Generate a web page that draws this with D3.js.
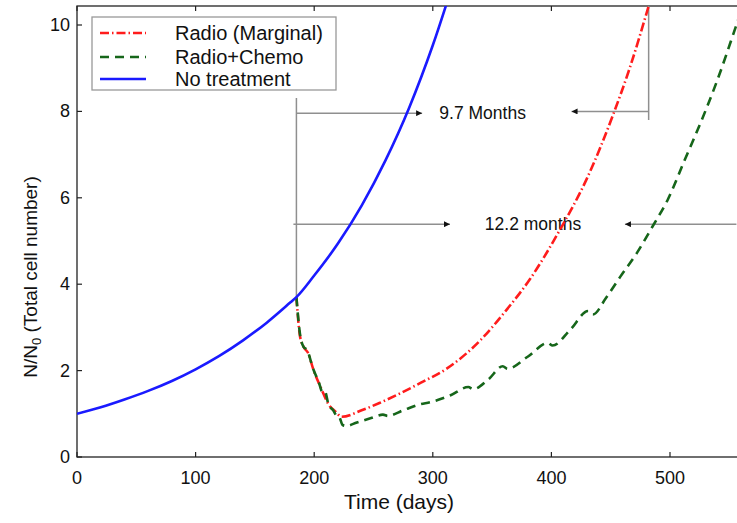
<!DOCTYPE html>
<html>
<head>
<meta charset="utf-8">
<script src="https://cdn.jsdelivr.net/npm/d3@7"></script>
<style>
  body { margin: 0; background: #fff; }
  text { font-family: "Liberation Sans", Arial, Helvetica, sans-serif; fill: #111; }
</style>
</head>
<body>
<div id="a"></div>
<script>
// values (days, N/N0)
var noTreatDays = [0, 20, 40, 60, 80, 100, 120, 140, 160, 180, 185, 200, 220, 240, 260, 280, 300, 320];
var noTreatVals = [1.00, 1.15, 1.33, 1.53, 1.76, 2.03, 2.34, 2.70, 3.11, 3.58, 3.70, 4.20, 4.94, 5.82, 6.86, 8.08, 9.53, 11.22];

var radioDays = [185, 188, 191, 195, 199, 206, 213, 218, 223, 240, 255, 270, 290, 312, 340, 362, 382, 407, 430, 452, 466, 482, 492];
var radioVals = [3.70, 2.80, 2.55, 2.40, 2.05, 1.58, 1.18, 1.05, 0.93, 1.08, 1.25, 1.44, 1.72, 2.05, 2.70, 3.40, 4.12, 5.25, 6.45, 7.92, 9.00, 10.44, 11.40];

var chemoDays = [185, 188, 191, 194, 199, 204, 207, 209, 212, 216, 219, 221, 224, 227, 236, 248, 258, 262, 275, 289, 298, 315, 330, 334, 347, 359, 363, 380, 397, 401, 416, 431, 435, 446, 458, 472, 486, 498, 512, 526, 540, 556, 566];
var chemoVals = [3.70, 2.85, 2.55, 2.48, 2.05, 1.72, 1.50, 1.52, 1.22, 1.08, 0.95, 0.93, 0.74, 0.72, 0.80, 0.90, 0.98, 0.95, 1.08, 1.22, 1.27, 1.43, 1.62, 1.57, 1.80, 2.10, 2.04, 2.32, 2.64, 2.58, 2.95, 3.38, 3.30, 3.68, 4.17, 4.72, 5.37, 5.95, 6.85, 7.75, 8.73, 10.00, 10.80];

var xTicks = [0, 100, 200, 300, 400, 500, 600];
var yTicks = [0, 2, 4, 6, 8, 10];
var legendLabels = ["Radio (Marginal)", "Radio+Chemo", "No treatment"];

// annotation values (days / N/N0)
var startDay = 185, radioEnd = 482, chemoEnd = 556;
var ann = [
  {label: "9.7 Months", y: 7.96, yR: 8.0, left: 291, text: 342, right: 417, end: radioEnd},
  {label: "12.2 months", y: 5.39, yR: 5.39, left: 314.5, text: 384.5, right: 462, end: chemoEnd}
];

var W = 737, H = 523;
var svg = d3.select("#a").append("svg")
  .attr("width", W).attr("height", H)
  .style("background-color", "#fff");

var x = d3.scaleLinear().domain([0, 500]).range([77, 670]);
var y = d3.scaleLinear().domain([0, 10]).range([457, 25]);
var pTop = 6, pBottom = y(0), pLeft = x(0), pRight = x(600);

var defs = svg.append("defs");
defs.append("clipPath").attr("id", "clip")
  .append("rect").attr("x", pLeft).attr("y", pTop).attr("width", pRight - pLeft).attr("height", pBottom - pTop);
defs.append("marker").attr("id", "arr")
  .attr("viewBox", "0 0 10 10").attr("refX", 10).attr("refY", 5)
  .attr("markerWidth", 11).attr("markerHeight", 6).attr("markerUnits", "userSpaceOnUse")
  .attr("orient", "auto")
  .append("path").attr("d", "M0,0L10,5L0,10Z").attr("fill", "#111");

// frame
svg.append("rect").attr("x", pLeft).attr("y", pTop).attr("width", pRight - pLeft).attr("height", pBottom - pTop)
  .attr("fill", "none").attr("stroke", "#222").attr("stroke-width", 1.3);

// ticks (inward)
var g = svg.append("g");
g.selectAll(".xb").data(xTicks).enter().append("line")
  .attr("x1", d => x(d)).attr("x2", d => x(d)).attr("y1", pBottom).attr("y2", pBottom - 5)
  .attr("stroke", "#222").attr("stroke-width", 1.2);
g.selectAll(".xt").data(xTicks).enter().append("line")
  .attr("x1", d => x(d)).attr("x2", d => x(d)).attr("y1", pTop).attr("y2", pTop + 5)
  .attr("stroke", "#222").attr("stroke-width", 1.2);
g.selectAll(".yl").data(yTicks).enter().append("line")
  .attr("x1", pLeft).attr("x2", pLeft + 5).attr("y1", d => y(d)).attr("y2", d => y(d))
  .attr("stroke", "#222").attr("stroke-width", 1.2);

g.selectAll(".xlab").data(xTicks.slice(0, 6)).enter().append("text")
  .attr("x", d => x(d)).attr("y", 484).attr("text-anchor", "middle")
  .attr("font-size", 18).text(d => d);
g.selectAll(".ylab").data(yTicks).enter().append("text")
  .attr("x", 70).attr("y", d => y(d) + 6).attr("text-anchor", "end")
  .attr("font-size", 18).text(d => d);

svg.append("text").attr("x", 399).attr("y", 509).attr("text-anchor", "middle")
  .attr("font-size", 21).text("Time (days)");
var yt = svg.append("text").attr("transform", "translate(37," + 277 + ") rotate(-90)")
  .attr("text-anchor", "middle").attr("font-size", 19);
yt.append("tspan").text("N/N");
yt.append("tspan").attr("font-size", 13).attr("dy", 4).text("0");
yt.append("tspan").attr("dy", -4).text(" (Total cell number)");

// annotation lines
var ga = svg.append("g").attr("stroke", "#8f8f8f").attr("stroke-width", 1.5);
ga.append("line").attr("x1", x(startDay)).attr("x2", x(startDay)).attr("y1", 98).attr("y2", y(3.7));
ga.append("line").attr("x1", x(radioEnd)).attr("x2", x(radioEnd)).attr("y1", pTop).attr("y2", 120);
ann.forEach(function(a) {
  ga.append("line").attr("x1", x(startDay) - (a.end === chemoEnd ? 3 : 0)).attr("x2", x(a.left))
    .attr("y1", y(a.y)).attr("y2", y(a.y)).attr("marker-end", "url(#arr)");
  ga.append("line").attr("x1", x(a.end)).attr("x2", x(a.right))
    .attr("y1", y(a.yR)).attr("y2", y(a.yR)).attr("marker-end", "url(#arr)");
  svg.append("text").attr("x", x(a.text)).attr("y", y(a.y) + 6).attr("text-anchor", "middle")
    .attr("font-size", 17.5).text(a.label);
});

// curves
var line = d3.line().x(d => x(d[0])).y(d => y(d[1])).curve(d3.curveMonotoneX);
var gc = svg.append("g").attr("clip-path", "url(#clip)").attr("fill", "none");
var series = [
  {days: radioDays, vals: radioVals, color: "#ff1c1c", dash: "9,3,1.5,3"},
  {days: chemoDays, vals: chemoVals, color: "#16661a", dash: "9,6"},
  {days: noTreatDays, vals: noTreatVals, color: "#1a1aff", dash: null}
];
series.forEach(function(s) {
  gc.append("path").datum(d3.zip(s.days, s.vals)).attr("d", line)
    .attr("stroke", s.color).attr("stroke-width", 2.6)
    .attr("stroke-dasharray", s.dash);
});

// legend
var lg = svg.append("g");
lg.append("rect").attr("x", 92).attr("y", 17).attr("width", 244).attr("height", 73)
  .attr("fill", "#fff").attr("stroke", "#999").attr("stroke-width", 1.3);
var ly = [33, 57, 79];
legendLabels.forEach(function(l, i) {
  lg.append("line").attr("x1", 100).attr("x2", 146).attr("y1", ly[i]).attr("y2", ly[i])
    .attr("stroke", series[i].color).attr("stroke-width", 2.6).attr("stroke-dasharray", series[i].dash);
  lg.append("text").attr("x", 175).attr("y", ly[i] + 7).attr("font-size", 20).text(l);
});
</script>
</body>
</html>
